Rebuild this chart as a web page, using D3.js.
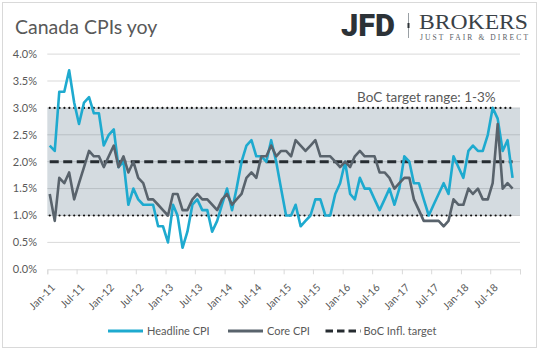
<!DOCTYPE html>
<html>
<head>
<meta charset="utf-8">
<script src="https://cdn.jsdelivr.net/npm/d3@7"></script>
<style>
  html, body { margin: 0; padding: 0; background: #fff; }
  svg { display: block; font-family: Lato, "Open Sans", sans-serif; }
</style>
</head>
<body>
<div id="chart"></div>
<script>
// Canada CPI yoy, monthly Jan-11 .. Nov-18 (%)
const headlineCPI = [
  2.3, 2.2, 3.3, 3.3, 3.7, 3.1, 2.7, 3.1, 3.2, 2.9, 2.9, 2.3,
  2.5, 2.6, 1.9, 2.0, 1.2, 1.5, 1.3, 1.2, 1.2, 1.2, 0.8, 0.8,
  0.5, 1.2, 1.0, 0.4, 0.7, 1.2, 1.3, 1.1, 1.1, 0.7, 0.9, 1.2,
  1.5, 1.1, 1.5, 2.0, 2.3, 2.4, 2.1, 2.1, 2.0, 2.4, 2.0, 1.5,
  1.0, 1.0, 1.2, 0.8, 0.9, 1.0, 1.3, 1.3, 1.0, 1.0, 1.4, 1.6,
  2.0, 1.4, 1.3, 1.7, 1.5, 1.5, 1.3, 1.1, 1.3, 1.5, 1.2, 1.5,
  2.1, 2.0, 1.6, 1.6, 1.3, 1.0, 1.2, 1.4, 1.6, 1.4, 2.1, 1.9,
  1.7, 2.2, 2.3, 2.2, 2.2, 2.5, 3.0, 2.8, 2.2, 2.4, 1.7
];
const coreCPI = [
  1.4, 0.9, 1.7, 1.6, 1.8, 1.3, 1.6, 1.9, 2.2, 2.1, 2.1, 1.9,
  2.1, 2.3, 1.9, 2.1, 1.8, 2.0, 1.7, 1.6, 1.3, 1.3, 1.2, 1.1,
  1.0, 1.4, 1.4, 1.1, 1.1, 1.3, 1.4, 1.3, 1.3, 1.2, 1.1, 1.3,
  1.4, 1.2, 1.3, 1.4, 1.7, 1.8, 1.7, 2.1, 2.1, 2.3, 2.1, 2.2,
  2.2, 2.1, 2.4, 2.3, 2.2, 2.3, 2.4, 2.1, 2.1, 2.1, 2.0, 1.9,
  2.0, 1.9, 2.1, 2.2, 2.1, 2.1, 2.1, 1.8, 1.8, 1.7, 1.5, 1.6,
  1.7, 1.7, 1.3, 1.1, 0.9, 0.9, 0.9, 0.9, 0.8, 0.9, 1.3, 1.2,
  1.2, 1.5, 1.4, 1.5, 1.3, 1.3, 1.6, 2.7, 1.5, 1.6, 1.5
];
const bocTarget = 2.0;
const targetRange = [1.0, 3.0];
const yTicks = [0, 0.5, 1.0, 1.5, 2.0, 2.5, 3.0, 3.5, 4.0];
const xTickLabels = ["Jan-11", "Jul-11", "Jan-12", "Jul-12", "Jan-13", "Jul-13", "Jan-14", "Jul-14",
                     "Jan-15", "Jul-15", "Jan-16", "Jul-16", "Jan-17", "Jul-17", "Jan-18", "Jul-18"];
const legendItems = ["Headline CPI", "Core CPI", "BoC Infl. target"];

const W = 543, H = 351;
const plot = { left: 47.3, right: 520, top: 54.1, bottom: 269.3 };
const textGray = "#595959";
const headColor = "#1eaacf";
const coreColor = "#59636c";
const targetColor = "#262c31";

const months = d3.timeMonth.range(new Date(2011, 0, 1), new Date(2018, 11, 1));
const midMonth = d => new Date(d.getFullYear(), d.getMonth(), 16);

const x = d3.scaleTime().domain([new Date(2011, 0, 1), new Date(2019, 0, 1)]).range([plot.left, plot.right]);
const y = d3.scaleLinear().domain([0, 4]).range([plot.bottom, plot.top]);

const svg = d3.select("#chart").append("svg").attr("width", W).attr("height", H);

// chart border
svg.append("rect").attr("x", 2.5).attr("y", 2.5).attr("width", 534).attr("height", 345)
  .attr("fill", "#fff").attr("stroke", "#d9d9d9").attr("stroke-width", 1);

// title
svg.append("text").attr("x", 15).attr("y", 34).attr("fill", textGray)
  .style("font-size", "19.5px").text("Canada CPIs yoy");

// logo
const logo = svg.append("g");
logo.append("text").attr("x", 341).attr("y", 36).attr("fill", "#2c3237")
  .style("font-family", "Roboto, sans-serif").style("font-weight", "900").style("font-size", "31px")
  .attr("textLength", 54).attr("lengthAdjust", "spacingAndGlyphs").text("JFD");
logo.append("line").attr("x1", 408.5).attr("x2", 408.5).attr("y1", 13).attr("y2", 38)
  .attr("stroke", "#9aa0a5").attr("stroke-width", 1);
logo.append("rect").attr("x", 407.5).attr("y", 23).attr("width", 2).attr("height", 5).attr("fill", "#2c3237");
logo.append("text").attr("x", 419).attr("y", 28.5).attr("fill", "#3a4147")
  .style("font-family", "'Liberation Serif', serif").style("font-size", "22px")
  .attr("textLength", 109).attr("lengthAdjust", "spacingAndGlyphs").text("BROKERS");
logo.append("text").attr("x", 420).attr("y", 40).attr("fill", "#5a6167")
  .style("font-family", "'Liberation Serif', serif").style("font-size", "7.5px")
  .attr("textLength", 108).attr("lengthAdjust", "spacing").text("JUST FAIR & DIRECT");

// gridlines
svg.append("g").selectAll("line").data(yTicks.filter(d => d > 0)).enter().append("line")
  .attr("x1", plot.left).attr("x2", plot.right)
  .attr("y1", d => y(d)).attr("y2", d => y(d))
  .attr("stroke", "#d9d9d9").attr("stroke-width", 1);

// target band
svg.append("rect").attr("x", plot.left).attr("width", plot.right - plot.left)
  .attr("y", y(targetRange[1])).attr("height", y(targetRange[0]) - y(targetRange[1]))
  .attr("fill", "#5f7a8c").attr("fill-opacity", 0.27);

// y labels
svg.append("g").selectAll("text").data(yTicks).enter().append("text")
  .attr("x", 37).attr("y", d => y(d)).attr("dy", "0.35em").attr("text-anchor", "end")
  .attr("fill", textGray).style("font-size", "11px").text(d => d3.format(".1f")(d) + "%");

// x axis
const xAxis = d3.axisBottom(x)
  .tickValues(d3.timeMonth.every(6).range(new Date(2011, 0, 1), new Date(2019, 0, 2)))
  .tickSize(5).tickFormat("");
const xg = svg.append("g").attr("transform", `translate(0,${plot.bottom})`).call(xAxis);
xg.select(".domain").attr("stroke", "#d9d9d9");
xg.selectAll(".tick line").attr("stroke", "#d9d9d9");

const labelMonths = d3.timeMonth.every(6).range(new Date(2011, 0, 1), new Date(2018, 11, 1));
svg.append("g").selectAll("text").data(labelMonths).enter().append("text")
  .attr("transform", (d, i) => `translate(${x(midMonth(d)) + 6},${plot.bottom + 19}) rotate(-45)`)
  .attr("text-anchor", "end").attr("fill", textGray).style("font-size", "10.5px")
  .text((d, i) => xTickLabels[i]);

// range lines (dotted) and target (dashed)
const flatLine = v => d3.line().x(d => x(midMonth(d))).y(() => y(v))(months);
targetRange.forEach(v => {
  svg.append("path").attr("d", flatLine(v)).attr("fill", "none")
    .attr("stroke", "#111").attr("stroke-width", 2.2)
    .attr("stroke-linecap", "round").attr("stroke-dasharray", "0 4.9");
});
svg.append("path").attr("d", flatLine(bocTarget)).attr("fill", "none")
  .attr("stroke", targetColor).attr("stroke-width", 3).attr("stroke-dasharray", "9 4.5");

// series
const line = d3.line().x((d, i) => x(midMonth(months[i]))).y(d => y(d));
svg.append("path").datum(headlineCPI).attr("d", line).attr("fill", "none")
  .attr("stroke", headColor).attr("stroke-width", 2.6).attr("stroke-linejoin", "round");
svg.append("path").datum(coreCPI).attr("d", line).attr("fill", "none")
  .attr("stroke", coreColor).attr("stroke-width", 2.6).attr("stroke-linejoin", "round");

// annotation
svg.append("text").attr("x", 357).attr("y", 102).attr("fill", textGray)
  .style("font-size", "13.5px").text("BoC target range: 1-3%");

// legend
const legendPos = [108, 228, 325.5];
const legendStyle = [
  { color: headColor, dash: null },
  { color: coreColor, dash: null },
  { color: targetColor, dash: "7.5 4" }
];
legendItems.forEach((label, i) => {
  const g = svg.append("g").attr("transform", `translate(${legendPos[i]},331)`);
  g.append("line").attr("x1", 0).attr("x2", 35).attr("y1", 0).attr("y2", 0)
    .attr("stroke", legendStyle[i].color).attr("stroke-width", 3)
    .attr("stroke-dasharray", legendStyle[i].dash);
  g.append("text").attr("x", i === 2 ? 38 : 39).attr("y", 0).attr("dy", "0.35em")
    .attr("fill", textGray).style("font-size", "11px").text(label);
});
</script>
</body>
</html>
